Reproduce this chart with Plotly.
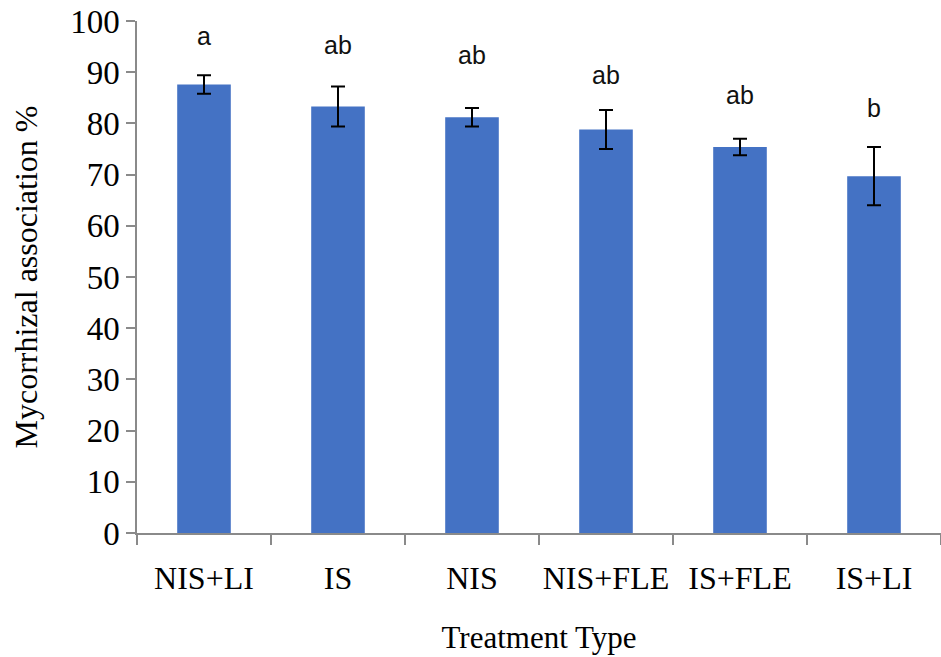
import plotly.graph_objects as go

# Mycorrhizal association by treatment (mean ± error)
treatments = ["NIS+LI", "IS", "NIS", "NIS+FLE", "IS+FLE", "IS+LI"]
association = [87.6, 83.3, 81.2, 78.8, 75.4, 69.7]
errors = [1.8, 3.9, 1.8, 3.8, 1.6, 5.7]
groups = ["a", "ab", "ab", "ab", "ab", "b"]
group_label_y = [97.0, 95.4, 93.3, 89.4, 85.5, 83.0]

serif = "Liberation Serif, Times New Roman, serif"
axis_grey = "#8a8a8a"

fig = go.Figure()
fig.add_trace(go.Bar(
    x=treatments,
    y=association,
    width=0.40,
    marker=dict(color="#4472C4", line=dict(width=0)),
    error_y=dict(type="data", array=errors, visible=True,
                 color="black", thickness=2, width=7),
))

for t, g, gy in zip(treatments, groups, group_label_y):
    fig.add_annotation(x=t, y=gy, text=g, showarrow=False,
                       xref="x", yref="y", yanchor="middle",
                       font=dict(family="Liberation Sans, Arial, sans-serif",
                                 size=25, color="#111111"))

fig.update_layout(
    width=941, height=657,
    margin=dict(l=137, r=0, t=21, b=124),
    paper_bgcolor="white", plot_bgcolor="white",
    showlegend=False,
    bargap=0.6,
)

fig.update_xaxes(
    type="category", automargin=False, tickangle=0,
    showline=True, linecolor=axis_grey, linewidth=1.5,
    ticks="outside", tickson="boundaries", ticklen=10,
    tickcolor=axis_grey, tickwidth=1.5,
    tickfont=dict(family=serif, size=32, color="black"),
    ticklabelstandoff=16,
    showgrid=False,
    title=dict(text="Treatment Type", standoff=31,
               font=dict(family=serif, size=31, color="black")),
)

fig.update_yaxes(
    range=[0, 100], dtick=10, tick0=0, automargin=False,
    showline=True, linecolor=axis_grey, linewidth=1.5,
    ticks="outside", ticklen=9, tickcolor=axis_grey, tickwidth=1.5,
    tickfont=dict(family=serif, size=33, color="black"),
    ticklabelstandoff=0,
    showgrid=False, zeroline=False,
    title=dict(text="Mycorrhizal association %", standoff=23,
               font=dict(family=serif, size=32, color="black")),
)

fig.write_html("out.html")
